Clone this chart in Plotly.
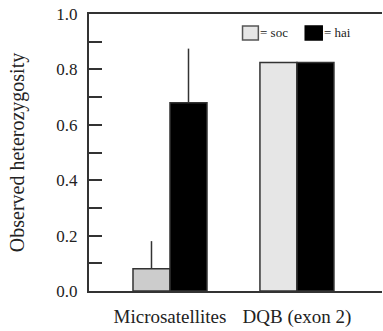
import plotly.graph_objects as go

categories = ["Microsatellites", "DQB (exon 2)"]
soc_values = [0.08, 0.825]
hai_values = [0.68, 0.825]
soc_err_plus = [0.10, 0.0]
hai_err_plus = [0.195, 0.0]
soc_colors = ["#cccccc", "#e6e6e6"]
y_tick_vals = [0.0, 0.2, 0.4, 0.6, 0.8, 1.0]
y_tick_text = ["0.0", "0.2", "0.4", "0.6", "0.8", "1.0"]
legend_labels = ["= soc", "= hai"]
legend_colors = ["#e6e6e6", "#000000"]

FONT = "Liberation Serif, Times New Roman, serif"
LINE = "#333333"
TEXT = "#222222"

fig = go.Figure()
fig.add_trace(go.Bar(
    x=categories, y=soc_values, name=legend_labels[0],
    marker=dict(color=soc_colors, line=dict(color=LINE, width=1.5)),
    error_y=dict(type="data", symmetric=False, array=soc_err_plus,
                 arrayminus=[0, 0], color=LINE, thickness=1.5, width=0),
))
fig.add_trace(go.Bar(
    x=categories, y=hai_values, name=legend_labels[1],
    marker=dict(color="#000000", line=dict(color=LINE, width=1.5)),
    error_y=dict(type="data", symmetric=False, array=hai_err_plus,
                 arrayminus=[0, 0], color=LINE, thickness=1.5, width=0),
))

sw_x = [(0.524, 0.578), (0.738, 0.796)]
tx_x = [0.583, 0.803]
sw_lines = ["#555555", "#000000"]
for (x0, x1), tx, lab, col, lc in zip(sw_x, tx_x, legend_labels, legend_colors, sw_lines):
    fig.add_shape(type="rect", xref="paper", yref="paper", x0=x0, x1=x1, y0=0.906, y1=0.957,
                  fillcolor=col, line=dict(color=lc, width=1.5))
    fig.add_annotation(xref="paper", yref="paper", x=tx, y=0.932, text=lab, showarrow=False,
                       xanchor="left", yanchor="middle", xshift=-2,
                       font=dict(size=13, family=FONT, color=TEXT))

fig.update_layout(
    width=383, height=331,
    margin=dict(l=89, r=1, t=14, b=40),
    barmode="group", bargap=0.417, bargroupgap=0,
    plot_bgcolor="white", paper_bgcolor="white",
    font=dict(family=FONT, color=TEXT),
    showlegend=False,
)
fig.update_xaxes(
    type="category", range=[-0.638, 1.67],
    showline=True, linecolor=LINE, linewidth=2, mirror=True,
    ticks="", showgrid=False, zeroline=False,
    tickfont=dict(size=19, family=FONT, color=TEXT),
    ticklabelstandoff=7, automargin=False,
)
fig.update_yaxes(
    range=[0, 1.0], tickvals=y_tick_vals, ticktext=y_tick_text,
    showline=True, linecolor=LINE, linewidth=2, mirror=False,
    ticks="inside", ticklen=13, tickwidth=1.5, tickcolor=LINE,
    minor=dict(dtick=0.1, ticks="inside", ticklen=13, tickwidth=1.5, tickcolor=LINE, showgrid=False),
    showgrid=False, zeroline=False,
    tickfont=dict(size=17, family=FONT, color=TEXT),
    ticklabelstandoff=6, automargin=False,
    title=dict(text="Observed heterozygosity", font=dict(size=20, family=FONT, color=TEXT), standoff=26),
)

fig.write_html("out.html", config={"displayModeBar": False},
               post_script="document.body.style.margin='0';document.body.style.overflow='hidden';document.documentElement.style.overflow='hidden';")
